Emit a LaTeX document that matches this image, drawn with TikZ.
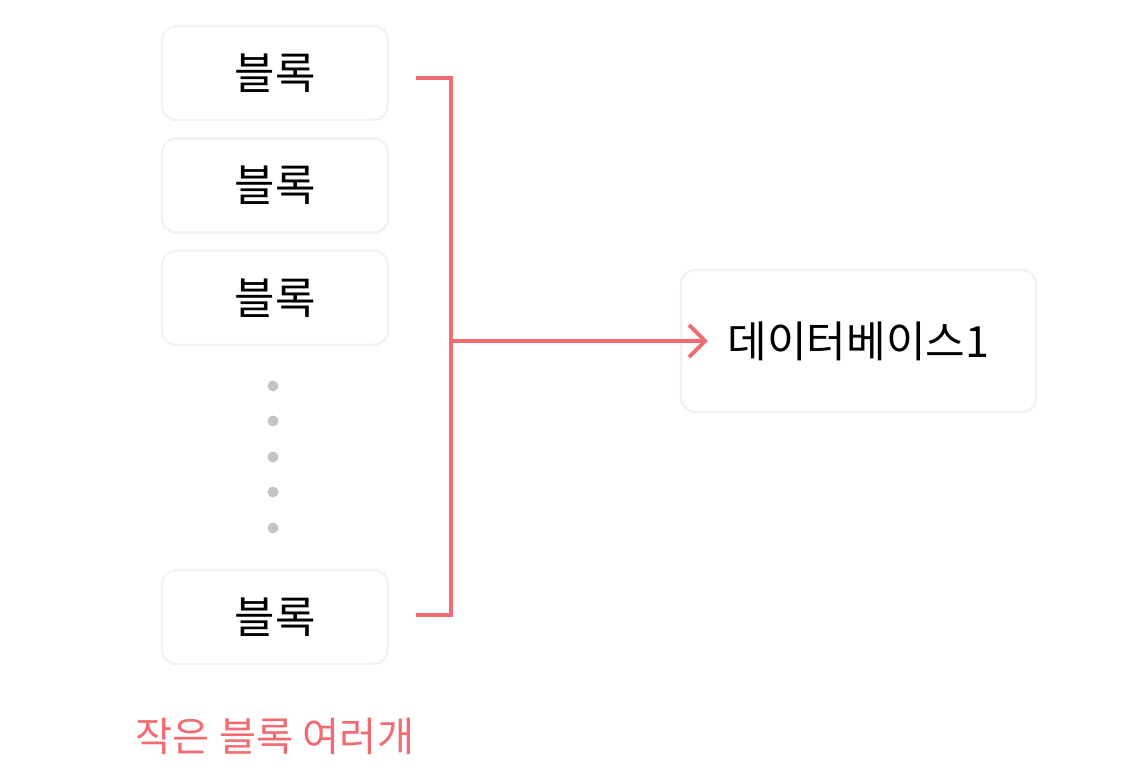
\documentclass[tikz,border=0pt]{standalone}
\usepackage{fontspec}
\setmainfont{Noto Sans CJK KR}
\usepackage{tikz}
\usetikzlibrary{arrows.meta, positioning, calc}
\usepackage{xcolor}
\definecolor{linered}{RGB}{242,107,112}
\definecolor{dotgray}{RGB}{196,196,196}
\definecolor{edgegray}{RGB}{242,242,242}

\begin{document}
\begin{tikzpicture}[
    blk/.style={rectangle, draw=edgegray, line width=1.4pt, fill=white, minimum width=4.52cm, minimum height=1.88cm, align=center, rounded corners=8pt, font=\fontsize{25}{30}\selectfont},
    dbbox/.style={blk, minimum width=7.1cm, minimum height=2.84cm, font=\fontsize{24.5}{29}\selectfont},
    brk/.style={line width=2.2pt, color=linered},
    arr/.style={brk, -{Straight Barb[length=3.2mm, width=6.4mm, line width=2.2pt]}},
    node distance=0.32cm
]
\useasboundingbox (0,0) rectangle (22.6,-15.56);

\node[blk] (b1) at (5.5,-1.46) {블록};
\node[blk, below=of b1] (b2) {블록};
\node[blk, below=of b2] (b3) {블록};
\node[blk] (b4) at (5.5,-12.34) {블록};

% dots between blocks
\foreach \y [count=\i] in {-7.72,-8.42,-9.14,-9.84,-10.56}
    \fill[dotgray] (5.46,\y) circle (0.11) coordinate (d\i);

\node[dbbox] (db) at (17.17,-6.82) {데이터베이스1};

\coordinate (spine) at ($(b1.east)+(1.24,-0.1)$);
\coordinate (dbin) at ($(db.west)+(0.56,0)$);
\draw[brk] ($(b1.east)+(0.54,-0.1)$) -| (spine) |- ($(b4.east)+(0.54,0.04)$);
\draw[arr] (spine |- db) -- (dbin);

\node[font=\fontsize{23}{28}\selectfont, text=linered] (cap) at (5.5,-14.72) {작은 블록 여러개};
\end{tikzpicture}
\end{document}
